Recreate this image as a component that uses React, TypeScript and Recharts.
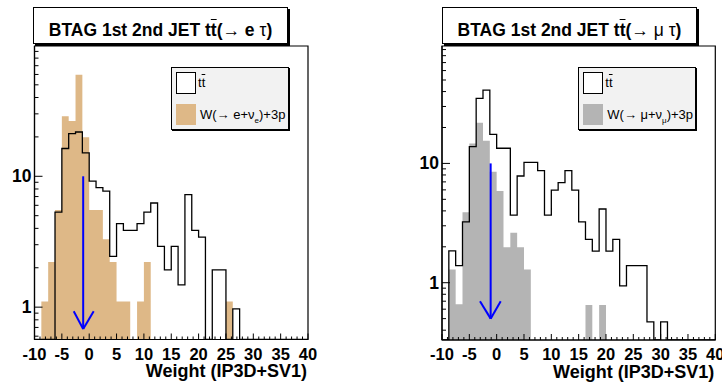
import React from 'react';
import { ComposedChart, Area, Line, XAxis, YAxis, ReferenceLine, ReferenceArea, Legend } from 'recharts';

const FONT = '"Liberation Sans", Arial, Helvetica, sans-serif';

// 40 bins of width 1.25 between -10 and 40
const binEdges = Array.from({ length: 41 }, (_, i) => -10 + i * 1.25);
const xTicks = Array.from({ length: 51 }, (_, i) => i - 10);

// ttbar and W+jets weights per bin, e channel
const ttElectron = [
  0, 0, 0, 5.33, 16.3, 21.2, 21.8, 15.1, 9.2, 8.2,
  7.7, 2.44, 4.35, 3.86, 3.86, 4.35, 5.33, 6.25, 2.91, 1.93,
  2.91, 1.48, 7.25, 3.86, 3.43, 0, 1.93, 1.93, 0, 0.97,
  0, 0, 0, 0, 0, 0, 0, 0, 0, 0,
];
const wElectron = [
  0, 1.105, 2.21, 5.52, 28.7, 26.5, 59.7, 19.9, 5.52, 5.52,
  3.31, 2.21, 1.105, 1.105, 0, 1.105, 2.21, 0, 0, 0,
  0, 0, 0, 0, 0, 0, 0, 0, 1.105, 0,
  0, 0, 0, 0, 0, 0, 0, 0, 0, 0,
];

// mu channel
const ttMuon = [
  0, 1.85, 1.39, 3.24, 13.8, 35.1, 41.2, 17.5, 13.4, 13.4,
  3.69, 7.84, 10.2, 10.2, 8.69, 3.69, 5.98, 6.89, 8.69, 5.98,
  3.24, 2.31, 1.84, 4.15, 1.84, 2.31, 0.94, 1.39, 1.39, 1.39,
  0.47, 0, 0.47, 0, 0, 0, 0, 0, 0, 0,
];
const wMuon = [
  0, 1.29, 0.66, 3.89, 14.7, 21.9, 15.5, 8.5, 5.87, 1.98,
  2.62, 1.98, 1.29, 0, 0, 0, 0, 0, 0, 0,
  0, 0.65, 0, 0.65, 0, 0, 0, 0, 0, 0,
  0, 0, 0, 0, 0, 0, 0, 0, 0, 0,
];

const yTicksElectron = [0.6, 0.7, 0.8, 0.9, 1, 2, 3, 4, 5, 6, 7, 8, 9, 10, 20, 30, 40, 50, 60, 70, 80, 90];
const yTicksMuon = [0.4, 0.5, 0.6, 0.7, 0.8, 0.9, 1, 2, 3, 4, 5, 6, 7, 8, 9, 10, 20, 30, 40, 50, 60, 70, 80, 90];

// cut arrow (x position, start value, tip value, wing value, wing x's)
const arrowElectron = { x: -1.1, top: 10, tip: 0.68, wingY: 0.93, wingL: -2.83, wingR: 0.82 };
const arrowMuon = { x: -1.1, top: 10, tip: 0.5, wingY: 0.7, wingL: -3.05, wingR: 0.74 };

const buildRows = (tt: number[], w: number[], floor: number) =>
  binEdges.map((x, i) => {
    const k = Math.min(i, tt.length - 1);
    return { x, tt: Math.max(tt[k], floor), w: Math.max(w[k], floor) };
  });

const XTick = (props: any) => {
  const { x, y, payload } = props;
  const v = payload.value;
  const major = v % 5 === 0;
  return (
    <g>
      <line x1={x} x2={x} y1={y} y2={y - (major ? 6 : 3)} stroke="#000" strokeWidth={1} />
      {major && (
        <text x={x} y={y + 20} textAnchor="middle" fontFamily={FONT} fontWeight="bold" fontSize={16.5} fill="#000">
          {v}
        </text>
      )}
    </g>
  );
};

const YTick = (props: any) => {
  const { x, y, payload } = props;
  const v = payload.value;
  const major = v === 1 || v === 10;
  return (
    <g>
      <line x1={x} x2={x + (major ? 8 : 4)} y1={y} y2={y} stroke="#000" strokeWidth={1} />
      {major && (
        <text x={x - 3} y={y + 6} textAnchor="end" fontFamily={FONT} fontWeight="bold" fontSize={17.5} fill="#000">
          {v}
        </text>
      )}
    </g>
  );
};

const LegendBox = ({ fill, wLabel }: { fill: string; wLabel: React.ReactNode }) => (
  <div
    style={{
      position: 'relative', width: 118, height: 63, boxSizing: 'border-box', background: '#f2f2f2',
      border: '1px solid #000', boxShadow: '1px 1px 0 #000', fontFamily: FONT, fontSize: 13, color: '#000',
    }}
  >
    <div style={{ position: 'absolute', left: 4, top: 4, width: 20, height: 22, boxSizing: 'border-box', background: '#fff', border: '1px solid #000' }} />
    <div style={{ position: 'absolute', left: 26, top: 7, lineHeight: '16px' }}>
      t<span style={{ textDecoration: 'overline' }}>t</span>
    </div>
    <div style={{ position: 'absolute', left: 4, top: 36, width: 20, height: 21, background: fill }} />
    <div style={{ position: 'absolute', left: 28, top: 39, lineHeight: '16px', whiteSpace: 'nowrap' }}>{wLabel}</div>
  </div>
);

const Title = ({ left, particle }: { left: number; particle: React.ReactNode }) => (
  <div
    style={{
      position: 'absolute', left, top: 7, width: 255, height: 37, boxSizing: 'border-box', background: '#fff',
      border: '1px solid #000', boxShadow: '2px 2px 0 #000', fontFamily: FONT, color: '#000',
    }}
  >
    <div style={{ position: 'absolute', left: 0, top: 12, width: '100%', textAlign: 'center', fontSize: 17.5, fontWeight: 'bold', lineHeight: '20px', whiteSpace: 'nowrap' }}>
      BTAG 1st 2nd JET t<span style={{ textDecoration: 'overline' }}>t</span>(
      <span style={{ fontWeight: 'normal' }}>→</span> {particle}{' '}
      <span style={{ fontWeight: 'normal' }}>τ</span>)
    </div>
  </div>
);

type PanelProps = {
  left: number;
  axisWidth: number;
  marginRight: number;
  axisHeight: number;
  rows: any[];
  domain: [number, number];
  yTicks: number[];
  fill: string;
  arrow: typeof arrowElectron;
  legendLeft: number;
  wLabel: React.ReactNode;
};

const HistPanel = ({ left, axisWidth, marginRight, axisHeight, rows, domain, yTicks, fill, arrow, legendLeft, wLabel }: PanelProps) => (
  <div style={{ position: 'absolute', left, top: 0 }}>
    <ComposedChart width={361} height={385} data={rows} margin={{ top: 46, right: marginRight, bottom: 0, left: 0 }}>
      <XAxis
        dataKey="x"
        type="number"
        domain={[-10, 40]}
        ticks={xTicks}
        interval={0}
        tickSize={0}
        tickMargin={0}
        tick={<XTick />}
        height={axisHeight}
        axisLine={{ stroke: '#000', strokeWidth: 1.2 }}
        allowDataOverflow
        label={{
          content: (p: any) => (
            <text
              x={p.viewBox.x + p.viewBox.width - 1}
              y={p.viewBox.y + 37.5}
              textAnchor="end"
              fontFamily={FONT}
              fontWeight="bold"
              fontSize={18}
              fill="#000"
            >
              Weight (IP3D+SV1)
            </text>
          ),
        }}
      />
      <YAxis
        type="number"
        scale="log"
        domain={domain}
        ticks={yTicks}
        interval={0}
        tickSize={0}
        tickMargin={0}
        tick={<YTick />}
        width={axisWidth}
        axisLine={{ stroke: '#000', strokeWidth: 1.2 }}
        allowDataOverflow
      />
      <Area type="stepAfter" dataKey="w" fill={fill} fillOpacity={1} stroke="none" baseValue={domain[0]} isAnimationActive={false} />
      <Line type="stepAfter" dataKey="tt" stroke="#000" strokeWidth={1.3} dot={false} isAnimationActive={false} />
      <ReferenceArea x1={-10} x2={40} y1={domain[0]} y2={domain[1]} fill="none" fillOpacity={0} stroke="#000" strokeWidth={1.2} />
      <ReferenceLine segment={[{ x: arrow.x, y: arrow.top }, { x: arrow.x, y: arrow.tip }]} stroke="#0000ff" strokeWidth={2} />
      <ReferenceLine segment={[{ x: arrow.wingL, y: arrow.wingY }, { x: arrow.x, y: arrow.tip }]} stroke="#0000ff" strokeWidth={2} />
      <ReferenceLine segment={[{ x: arrow.wingR, y: arrow.wingY }, { x: arrow.x, y: arrow.tip }]} stroke="#0000ff" strokeWidth={2} />
      <Legend
        layout="vertical"
        align="center"
        verticalAlign="middle"
        content={() => <LegendBox fill={fill} wLabel={wLabel} />}
        wrapperStyle={{ left: legendLeft, top: 67, width: 118, height: 63 }}
      />
    </ComposedChart>
  </div>
);

const subStyle: React.CSSProperties = { fontSize: 8, position: 'relative', top: 4 };

export default function App() {
  const fE = 0.566;
  const fM = 0.331;
  return (
    <div style={{ position: 'absolute', left: 0, top: 0, width: 722, height: 385, background: '#fff', overflow: 'hidden' }}>
      <HistPanel
        left={0}
        axisWidth={34.5}
        marginRight={53}
        axisHeight={45.5}
        rows={buildRows(ttElectron, wElectron, fE)}
        domain={[fE, 99]}
        yTicks={yTicksElectron}
        fill="#deb887"
        arrow={arrowElectron}
        legendLeft={171}
        wLabel={<>W(→ e+ν<span style={subStyle}>e</span>)+3p</>}
      />
      <HistPanel
        left={361}
        axisWidth={81}
        marginRight={6.7}
        axisHeight={45}
        rows={buildRows(ttMuon, wMuon, fM)}
        domain={[fM, 96.4]}
        yTicks={yTicksMuon}
        fill="#b4b4b4"
        arrow={arrowMuon}
        legendLeft={217.3}
        wLabel={<>W(→ μ+ν<span style={subStyle}>μ</span>)+3p</>}
      />
      <Title left={33} particle="e" />
      <Title left={442} particle={<span style={{ fontWeight: 'normal' }}>μ</span>} />
    </div>
  );
}
